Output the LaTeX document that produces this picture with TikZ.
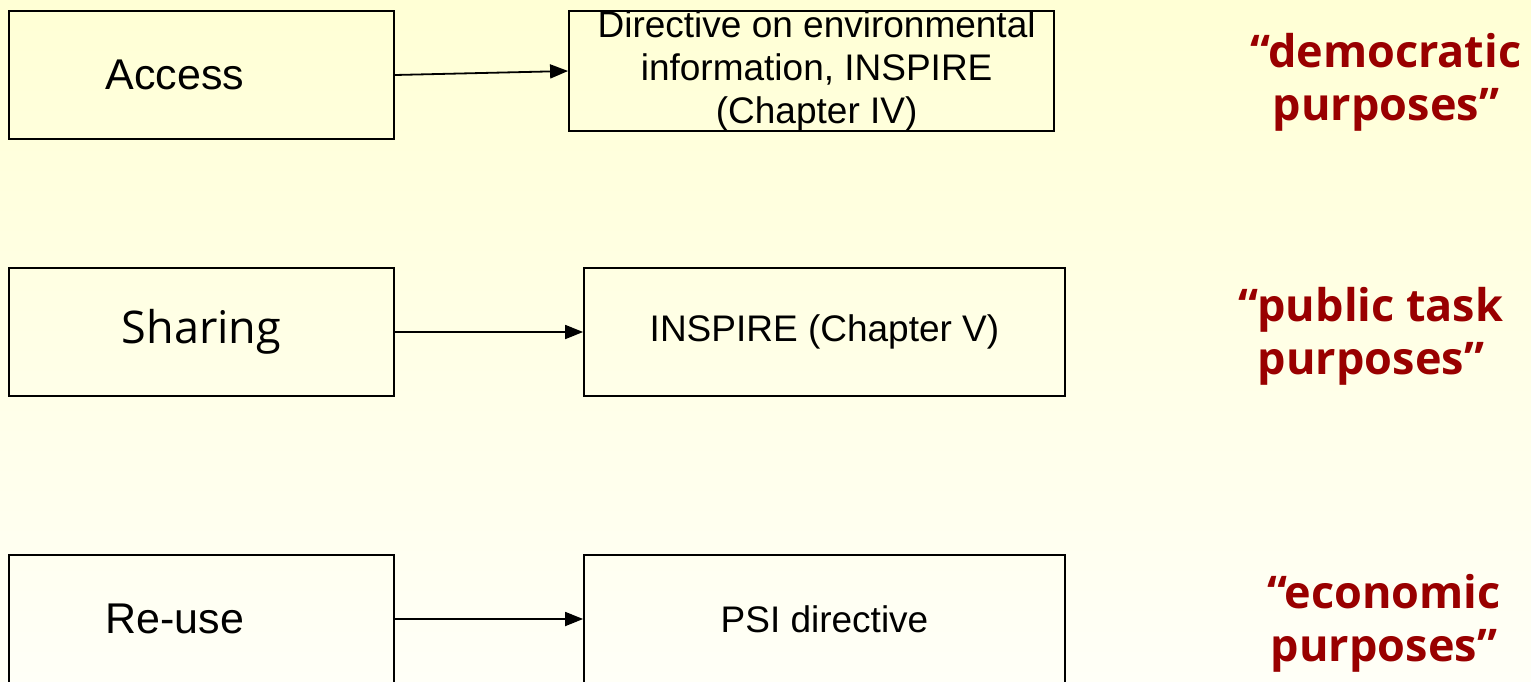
\documentclass[tikz,border=0pt]{standalone}
\usepackage{fontspec}
\setmainfont{Liberation Sans}
\newfontfamily\purposefont{Open Sans}
\usetikzlibrary{arrows.meta, positioning}
\definecolor{purposered}{RGB}{153,0,0}
\definecolor{bgtop}{RGB}{255,255,213}
\definecolor{bgbottom}{RGB}{255,255,247}

\begin{document}
\begin{tikzpicture}[x=1pt, y=-1pt, line width=1.8pt,
    kind/.style={draw, rectangle, inner sep=0pt, minimum width=385pt, minimum height=128pt, font=\fontsize{43}{48}\selectfont},
    law/.style={draw, rectangle, inner sep=0pt, minimum width=481pt, minimum height=128pt, font=\fontsize{37}{43}\selectfont},
    purpose/.style={text=purposered, align=center, font=\purposefont\bfseries\fontsize{45}{53}\selectfont},
    link/.style={-{Triangle[length=18pt,width=14pt]}}]
    \fill[top color=bgtop, bottom color=bgbottom] (0,0) rectangle (1531,681);
    \useasboundingbox (0,0) rectangle (1531,681);

    % left column
    \node[kind] (access) at (201.5,75) {Access\hspace*{53pt}};
    \node[kind, font=\purposefont\fontsize{45}{52}\selectfont] (sharing) at (201.5,332) {Sharing};
    \node[kind] (reuse) at (201.5,619) {Re-use\hspace*{53pt}};

    % middle column
    \node[law, minimum width=485pt, minimum height=120pt] (envinfo) at (811.5,71) {\smash{\raisebox{-7pt}{
        \begin{tabular}{c}
          Directive on environmental \\
          information, INSPIRE \\
          (Chapter IV)
        \end{tabular}}}
      };
    \node[law] (inspire) at (824.5,332) {INSPIRE (Chapter V)};
    \node[law] (psi) at (824.5,619) {PSI directive};

    % right column
    \node[purpose] (democratic) at (1386,82) {\char"201C democratic\\purposes\char"201D};
    \node[purpose] (publictask) at (1371,336) {\char"201C public task\\purposes\char"201D};
    \node[purpose] (economic) at (1384,623) {\char"201C economic\\purposes\char"201D};

    \draw[link] (access.east) -- (envinfo.west);
    \draw[link] (sharing) -- (inspire);
    \draw[link] (reuse) -- (psi);
\end{tikzpicture}
\end{document}
